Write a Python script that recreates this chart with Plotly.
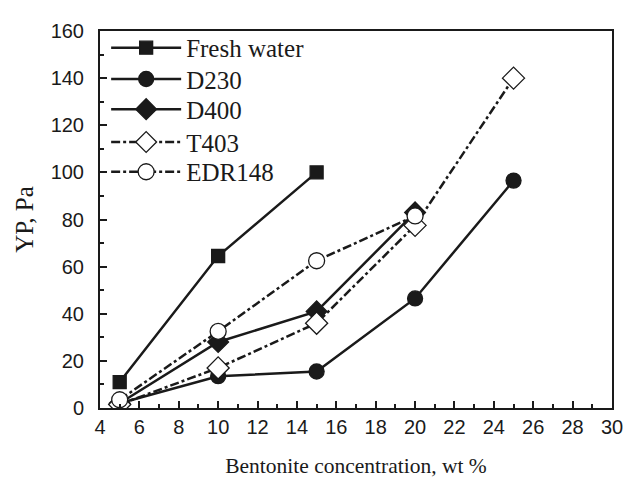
import plotly.graph_objects as go

x_fresh = [5, 10, 15]
y_fresh = [11, 64.5, 100]
x_d230 = [5, 10, 15, 20, 25]
y_d230 = [2, 13.5, 15.5, 46.5, 96.5]
x_d400 = [5, 10, 15, 20]
y_d400 = [2, 28, 41, 83]
x_t403 = [5, 10, 15, 20, 25]
y_t403 = [1.5, 17, 36, 77.5, 140]
x_edr = [5, 10, 15, 20]
y_edr = [3.5, 32.5, 62.5, 81.5]

names = ["Fresh water", "D230", "D400", "T403", "EDR148"]
xs = [x_fresh, x_d230, x_d400, x_t403, x_edr]
ys = [y_fresh, y_d230, y_d400, y_t403, y_edr]
symbols = ["square", "circle", "diamond", "diamond-open", "circle-open"]
dashes = ["solid", "solid", "solid", "dashdot", "dashdot"]
sizes = [13, 15, 16, 17, 16]

SERIF = "Liberation Serif, Times New Roman, serif"
SANS = "Liberation Sans, Arial, sans-serif"

legend_ids = ["legend", "legend2", "legend3", "legend4", "legend5"]
legend_y = [0.955, 0.872, 0.792, 0.705, 0.626]

fig = go.Figure()
for i, (n, x, y, s, d, sz) in enumerate(zip(names, xs, ys, symbols, dashes, sizes)):
    open_ = s.endswith("open")
    fig.add_trace(go.Scatter(
        x=x, y=y, name=n, mode="lines+markers", legend=legend_ids[i],
        line=dict(color="#1a1a1a", width=2.5, dash=d),
        marker=dict(symbol=s.replace("-open", ""), size=sz,
                    color="white" if open_ else "#1a1a1a",
                    line=dict(color="#1a1a1a", width=1.3)),
    ))

axis_common = dict(
    showline=True, linecolor="#1a1a1a", linewidth=2, mirror=True,
    ticks="inside", tickcolor="#1a1a1a", ticklen=7, tickwidth=1.5,
    showgrid=False, zeroline=False,
    tickfont=dict(family=SANS, size=20, color="#1a1a1a"),
)
fig.update_xaxes(range=[4, 30], dtick=2, tick0=4,
                 minor=dict(ticks="inside", dtick=1, ticklen=4, tickcolor="#1a1a1a", tickwidth=1.5),
                 title=dict(text="Bentonite concentration, wt %",
                            font=dict(family=SERIF, size=21.5, color="#1a1a1a"), standoff=21),
                 **axis_common)
fig.update_yaxes(range=[0, 160], dtick=20, ticklabelstandoff=10,
                 minor=dict(ticks="inside", dtick=10, ticklen=4, tickcolor="#1a1a1a", tickwidth=1.5),
                 title=dict(text="YP, Pa",
                            font=dict(family=SERIF, size=25, color="#1a1a1a"), standoff=10),
                 **axis_common)

legends = {}
for i, lid in enumerate(legend_ids):
    legends[lid] = dict(x=0.012, y=legend_y[i], xanchor="left", yanchor="middle",
                        font=dict(family=SERIF, size=25, color="#1a1a1a"),
                        bgcolor="rgba(0,0,0,0)", itemwidth=70)
fig.update_layout(
    width=641, height=479,
    margin=dict(l=92, r=37, t=14, b=79),
    paper_bgcolor="white", plot_bgcolor="white",
    font=dict(family=SERIF, color="#1a1a1a"),
    showlegend=True,
    **legends,
)
fig.write_html("out.html")
